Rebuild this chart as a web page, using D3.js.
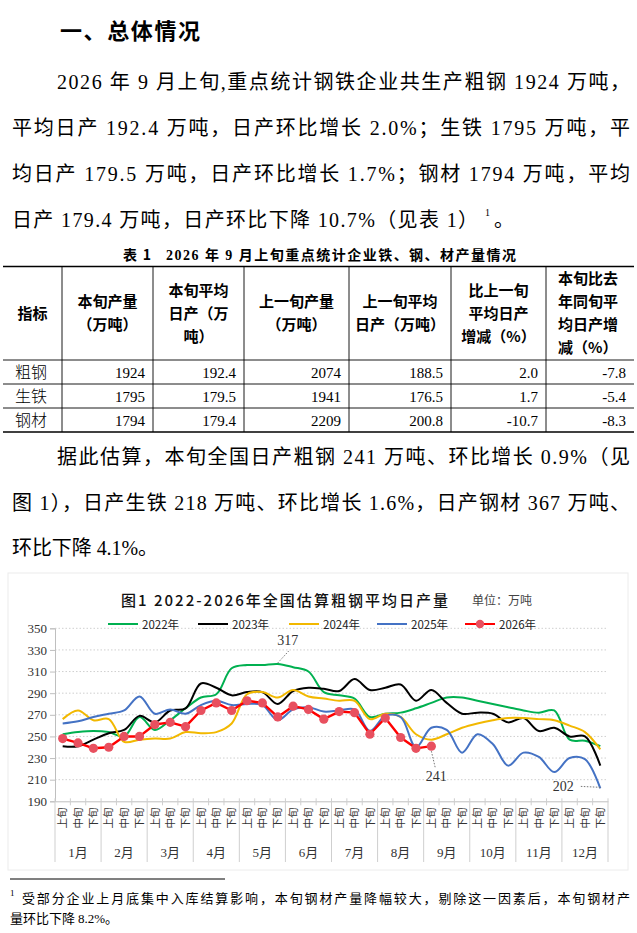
<!DOCTYPE html>
<html>
<head>
<meta charset="utf-8">
<script src="https://cdn.jsdelivr.net/npm/d3@7"></script>
<style>
  body { margin: 0; background: #fff; }
</style>
</head>
<body>
<div id="page"></div>
<script>
// ---- data ----
const periods = ['上旬', '中旬', '下旬'];
const months = ['1月', '2月', '3月', '4月', '5月', '6月', '7月', '8月', '9月', '10月', '11月', '12月'];
const yTicks = [190, 210, 230, 250, 270, 290, 310, 330, 350];
const years = ['2022年', '2023年', '2024年', '2025年', '2026年'];

const v2022 = [252, 254, 255, 254, 250, 268, 256, 265, 276, 286, 289, 313, 316, 316, 317, 314, 310, 291,
               288, 285, 268, 271, 272, 276, 281, 286, 286, 283, 280, 277, 274, 272, 274, 247, 246, 241];
const v2023 = [241, 241, 247, 253, 256, 269, 263, 274, 276, 299, 295, 288, 291, 291, 280, 292, 295, 294,
               292, 303, 293, 295, 298, 283, 293, 281, 271, 272, 271, 263, 267, 255, 258, 250, 250, 223];
const v2024 = [266, 274, 265, 266, 245, 247, 248, 248, 254, 253, 254, 262, 289, 291, 286, 293, 287, 285,
               283, 283, 266, 271, 268, 252, 247, 252, 258, 262, 265, 267, 267, 266, 265, 260, 254, 238];
const v2025 = [262, 264, 268, 271, 274, 287, 271, 275, 271, 279, 283, 279, 280, 279, 265, 275, 277, 273,
               274, 275, 255, 269, 268, 240, 258, 256, 235, 252, 243, 223, 235, 231, 217, 230, 229, 202];
const v2026 = [248, 244, 239, 240, 250, 250, 261, 263, 259, 274, 281, 274, 283, 281, 268, 278, 275, 266,
               273, 272, 252, 267, 249, 239, 241];

// table
const tblCaption = ['表 1', '2026 年 9 月上旬重点统计企业铁、钢、材产量情况'];
const tblHeads = [
  ['指标'],
  ['本旬产量', '（万吨）'],
  ['本旬平均', '日产（万', '吨）'],
  ['上一旬产量', '（万吨）'],
  ['上一旬平均', '日产（万吨）'],
  ['比上一旬', '平均日产', '增减（%）'],
  ['本旬比去', '年同旬平', '均日产增', '减（%）']
];
const tblNames = ['粗钢', '生铁', '钢材'];
const tblOutput = ['1924', '1795', '1794'];
const tblDaily = ['192.4', '179.5', '179.4'];
const tblPrevOutput = ['2074', '1941', '2209'];
const tblPrevDaily = ['188.5', '176.5', '200.8'];
const tblChgPrev = ['2.0', '1.7', '-10.7'];
const tblChgYoY = ['-7.8', '-5.4', '-8.3'];

const para1 = [
  '2026 年 9 月上旬,重点统计钢铁企业共生产粗钢 1924 万吨，',
  '平均日产 192.4 万吨，日产环比增长 2.0%；生铁 1795 万吨，平',
  '均日产 179.5 万吨，日产环比增长 1.7%；钢材 1794 万吨，平均',
  '日产 179.4 万吨，日产环比下降 10.7%（见表 1）'
];
const para2 = [
  '据此估算，本旬全国日产粗钢 241 万吨、环比增长 0.9%（见',
  '图 1），日产生铁 218 万吨、环比增长 1.6%，日产钢材 367 万吨、',
  '环比下降 4.1%。'
];
const footnote = [
  '受部分企业上月底集中入库结算影响，本旬钢材产量降幅较大，剔除这一因素后，本旬钢材产',
  '量环比下降 8.2%。'
];

// ---- page ----
const W = 637, H = 933;
const SERIF = '"Liberation Serif", "Noto Sans CJK SC", serif';
const SANS = '"Noto Sans CJK SC", sans-serif';

const svg = d3.select('#page').append('svg')
  .attr('width', W).attr('height', H)
  .style('display', 'block');

function txt(g, s, x, y, size, opts = {}) {
  const t = g.append('text')
    .attr('x', x).attr('y', y)
    .attr('font-size', size)
    .attr('font-family', opts.family || SERIF)
    .attr('fill', opts.fill || '#000')
    .attr('text-anchor', opts.anchor || 'start')
    .text(s);
  if (opts.weight) t.attr('font-weight', opts.weight);
  if (opts.len) t.attr('textLength', opts.len).attr('lengthAdjust', 'spacing');
  return t;
}

// heading
txt(svg, '一、总体情况', 60, 39, 22, { family: SANS, weight: 'bold', len: 140 });

// paragraph 1
const p1y = [89, 135, 181, 227];
const p1x = [[57, 630], [12, 630], [12, 630], [12, 478]];
para1.forEach((s, i) => {
  txt(svg, s, p1x[i][0], p1y[i], 20, { len: p1x[i][1] - p1x[i][0] });
});
txt(svg, '1', 485, 216, 10);
txt(svg, '。', 494, 227, 20, { family: SANS });

// table caption
txt(svg, tblCaption[0], 123, 260, 14, { weight: 'bold', family: SANS, len: 28 });
txt(svg, tblCaption[1], 166, 260, 14, { weight: 'bold', len: 350 });

// table
const cols = [3, 62, 153, 244, 349, 451, 546, 634];
const tTop = 266.5, tHead = 360, rowH = 24;
const tBot = tHead + rowH * tblNames.length;
const tg = svg.append('g');
tg.append('line').attr('x1', cols[0]).attr('x2', cols[7]).attr('y1', tTop).attr('y2', tTop)
  .attr('stroke', '#000').attr('stroke-width', 1.6);
tg.append('line').attr('x1', cols[0]).attr('x2', cols[7]).attr('y1', tBot).attr('y2', tBot)
  .attr('stroke', '#000').attr('stroke-width', 1.6);
[tHead, tHead + rowH, tHead + 2 * rowH].forEach(y => {
  tg.append('line').attr('x1', cols[0]).attr('x2', cols[7]).attr('y1', y).attr('y2', y)
    .attr('stroke', '#000').attr('stroke-width', 0.9);
});
cols.slice(1, 7).forEach(x => {
  tg.append('line').attr('x1', x).attr('x2', x).attr('y1', tTop).attr('y2', tBot)
    .attr('stroke', '#000').attr('stroke-width', 0.9);
});
const headMid = (tTop + tHead) / 2;
tblHeads.forEach((lines, c) => {
  const n = lines.length;
  const gap = 23;
  lines.forEach((s, k) => {
    const cy = headMid + (k - (n - 1) / 2) * gap;
    const left = c === 6;
    txt(tg, s, left ? cols[c] + 12 : (cols[c] + cols[c + 1]) / 2, cy + 5.5, 15,
      { family: SANS, weight: 'bold', anchor: left ? 'start' : 'middle' });
  });
});
const tblCols = [tblOutput, tblDaily, tblPrevOutput, tblPrevDaily, tblChgPrev, tblChgYoY];
tblNames.forEach((name, r) => {
  const y = tHead + rowH * r + rowH / 2 + 5.5;
  txt(tg, name, 15, y, 16, { family: SANS, weight: 300 });
  tblCols.forEach((arr, c) => {
    txt(tg, arr[r], cols[c + 2] - 8, y, 15, { anchor: 'end' });
  });
});

// paragraph 2
const p2y = [464, 510, 555];
const p2x = [[57, 630], [12, 630], [12, 158]];
para2.forEach((s, i) => {
  txt(svg, s, p2x[i][0], p2y[i], 20, { len: p2x[i][1] - p2x[i][0] });
});

// ---- chart ----
const cg = svg.append('g');
cg.append('rect').attr('x', 8).attr('y', 573).attr('width', 620).attr('height', 297)
  .attr('fill', '#fff').attr('stroke', '#ececec');

const idx = d3.range(months.length * periods.length);
const x = d3.scaleBand().domain(idx).range([55, 608]).padding(0);
const y = d3.scaleLinear().domain([190, 350]).range([801.3, 628.3]);
const cx = i => x(i) + x.bandwidth() / 2;

// title
txt(cg, '图1 2022-2026年全国估算粗钢平均日产量', 121, 606, 15,
  { family: SANS, weight: 500, len: 327, fill: '#111' });
txt(cg, '单位：万吨', 472, 605, 12, { family: SANS, fill: '#444' });

// grid
cg.append('g').selectAll('line').data(yTicks.filter(d => d > 190)).join('line')
  .attr('x1', 55).attr('x2', 608)
  .attr('y1', d => y(d)).attr('y2', d => y(d))
  .attr('stroke', '#cfcfcf').attr('stroke-dasharray', '1.5,2');

// y axis
const yAxis = cg.append('g').attr('transform', 'translate(55,0)')
  .call(d3.axisLeft(y).tickValues(yTicks).tickSize(5).tickPadding(3));
yAxis.select('.domain').attr('stroke', '#bfbfbf');
yAxis.selectAll('.tick line').attr('stroke', '#bfbfbf');
yAxis.selectAll('.tick text').attr('font-family', SERIF).attr('font-size', 13).attr('fill', '#333');

// x axis
const xAxis = cg.append('g').attr('transform', `translate(0,${y(190)})`)
  .call(d3.axisBottom(x).tickSize(0).tickFormat(''));
xAxis.select('.domain').attr('stroke', '#bfbfbf');
cg.append('g').selectAll('line').data(d3.range(idx.length + 1)).join('line')
  .attr('x1', d => 55 + d * x.bandwidth()).attr('x2', d => 55 + d * x.bandwidth())
  .attr('y1', y(190) - 3)
  .attr('y2', d => d % 3 === 0 ? 862 : y(190) + 4)
  .attr('stroke', '#cfcfcf');
cg.append('g').selectAll('text').data(idx).join('text')
  .attr('transform', d => `translate(${cx(d)},818) rotate(-90)`)
  .attr('text-anchor', 'middle').attr('dy', '0.35em')
  .attr('font-family', SANS).attr('font-size', 10.5).attr('fill', '#333')
  .text(d => periods[d % 3]);
cg.append('g').selectAll('text').data(months).join('text')
  .attr('x', (d, i) => (cx(i * 3) + cx(i * 3 + 2)) / 2)
  .attr('y', 857)
  .attr('text-anchor', 'middle')
  .attr('font-family', SERIF).attr('font-size', 13).attr('fill', '#333')
  .text(d => d);

// lines
const series = [
  { name: years[0], values: v2022, color: '#00b050' },
  { name: years[1], values: v2023, color: '#000000' },
  { name: years[2], values: v2024, color: '#f2b800' },
  { name: years[3], values: v2025, color: '#4472c4' },
  { name: years[4], values: v2026, color: '#ff0000', marker: true }
];
const smooth = d3.line().x((d, i) => cx(i)).y(d => y(d)).curve(d3.curveCatmullRom.alpha(0.5));
const straight = d3.line().x((d, i) => cx(i)).y(d => y(d));
series.forEach(s => {
  cg.append('path').datum(s.values)
    .attr('d', s.marker ? straight : smooth)
    .attr('fill', 'none').attr('stroke', s.color)
    .attr('stroke-width', s.marker ? 2.4 : 2)
    .attr('stroke-linejoin', 'round');
  if (s.marker) {
    cg.append('g').selectAll('circle').data(s.values).join('circle')
      .attr('cx', (d, i) => cx(i)).attr('cy', d => y(d)).attr('r', 4.6)
      .attr('fill', '#e8505f');
  }
});

// annotations
function note(i, v, label, lx, ly, tx, ty) {
  cg.append('line')
    .attr('x1', cx(i) + lx[0]).attr('y1', y(v) + lx[1])
    .attr('x2', cx(i) + ly[0]).attr('y2', y(v) + ly[1])
    .attr('stroke', '#777').attr('stroke-dasharray', '1.5,1.5');
  txt(cg, label, cx(i) + tx, y(v) + ty, 14, { anchor: 'middle', fill: '#333' });
}
const iMax22 = v2022.indexOf(d3.max(v2022));
note(iMax22, v2022[iMax22], String(v2022[iMax22]), [0, -1], [11, -13], 10, -19);
const iLast26 = v2026.length - 1;
note(iLast26, v2026[iLast26], String(v2026[iLast26]), [0, 5], [4, 22], 5, 35);
const iLast25 = v2025.length - 1;
note(iLast25, v2025[iLast25], String(v2025[iLast25]), [0, -1], [-21, -2], -37, 3);

// legend
const legX = [108, 198, 289, 377, 465];
const lg = cg.append('g');
series.forEach((s, i) => {
  lg.append('line').attr('x1', legX[i]).attr('x2', legX[i] + 30)
    .attr('y1', 624).attr('y2', 624)
    .attr('stroke', s.color).attr('stroke-width', 2);
  if (s.marker) {
    lg.append('circle').attr('cx', legX[i] + 15).attr('cy', 624).attr('r', 4.2).attr('fill', '#e8505f');
  }
  txt(lg, s.name, legX[i] + 34, 628.5, 11.5, { family: SANS, fill: '#222' });
});

// footnote
svg.append('line').attr('x1', 10).attr('x2', 225).attr('y1', 879).attr('y2', 879)
  .attr('stroke', '#000').attr('stroke-width', 1);
txt(svg, '1', 10, 896, 9);
txt(svg, footnote[0], 22, 903, 13, { len: 608 });
txt(svg, footnote[1], 10, 923, 13, { len: 108 });
</script>
</body>
</html>
